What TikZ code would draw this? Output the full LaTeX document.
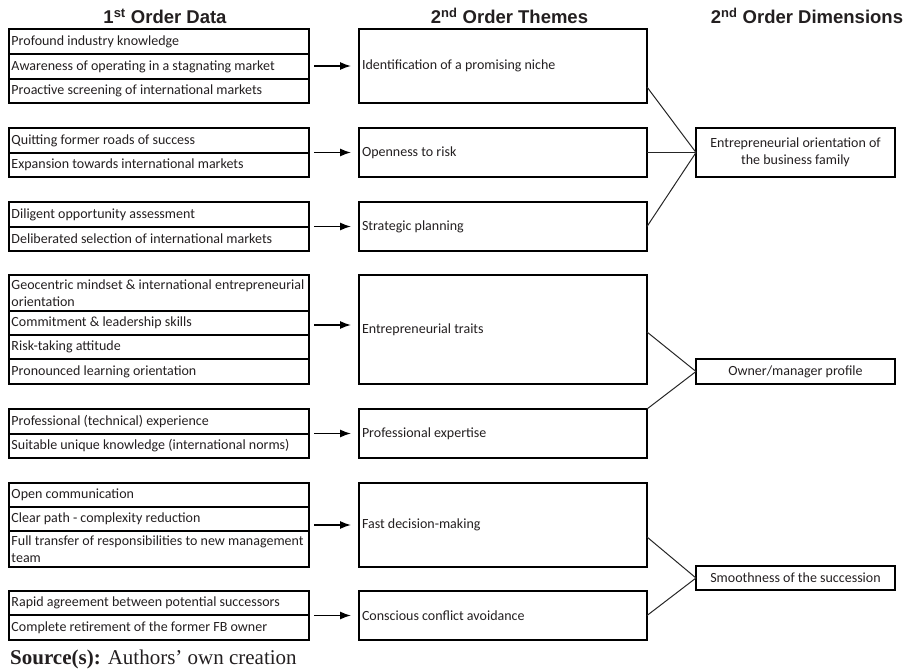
\documentclass[tikz,border=0pt]{standalone}
\usepackage{fontspec}
\setmainfont{Carlito}
\newfontfamily\headfont{Liberation Sans}
\newfontfamily\srcfont{Liberation Serif}
\usetikzlibrary{arrows.meta,calc}
\definecolor{ink}{RGB}{35,31,32}
% ragged-right paragraphs with the font's own word spacing, no hyphenation
\newcommand\plainragged{\rightskip=0pt plus 1fil\relax\spaceskip=0pt\relax
  \hyphenpenalty=10000\relax\exhyphenpenalty=10000\relax}
% centred paragraphs with the font's own word spacing
\newcommand\plaincentred{\leftskip=0pt plus 1fil\relax\rightskip=0pt plus 1fil\relax
  \parfillskip=0pt\relax\spaceskip=0pt\relax\hyphenpenalty=10000\relax}

\begin{document}
\begin{tikzpicture}[x=1pt,y=-1pt,
  boxtext/.style={font=\fontsize{14}{16.8}\selectfont, text=ink},
  cell/.style={boxtext, draw=black, line width=1.2pt, anchor=north west, outer sep=0pt,
    inner xsep=2.5pt, inner ysep=0pt, text width=295pt,
    execute at begin node=\plainragged},
  theme/.style={boxtext, draw=black, line width=1.2pt, anchor=north west, outer sep=0pt,
    inner xsep=3pt, inner ysep=0pt, text width=282pt,
    execute at begin node=\plainragged},
  dimbox/.style={boxtext, draw=black, line width=1.2pt, anchor=north west, outer sep=0pt,
    inner xsep=3pt, inner ysep=0pt, text width=193pt,
    execute at begin node=\plaincentred},
  head/.style={anchor=base, inner sep=0pt, text=ink,
    font=\headfont\bfseries\fontsize{18.5}{22}\selectfont},
  arr/.style={draw=black, line width=1.4pt, -{Latex[length=11pt,width=8pt]},
    shorten <=5pt, shorten >=8pt},
  link/.style={draw=black!85, line width=1pt}]
\useasboundingbox (0,0) rectangle (911,669);

% column headings
\node[head] (h1) at (165,24) {1\textsuperscript{st} Order Data};
\node[head] (h2) at (509.5,24) {2\textsuperscript{nd} Order Themes};
\node[head] (h3) at (807,24) {2\textsuperscript{nd} Order Dimensions};

% first-order data
\node[cell, minimum height=25pt] (a1) at (9,29) {Profound industry knowledge};
\node[cell, minimum height=25pt] (a2) at (9,54) {Awareness of operating in a stagnating market};
\node[cell, minimum height=24pt] (a3) at (9,79) {Proactive screening of international markets};

\node[cell, minimum height=25pt] (b1) at (9,128) {Quitting former roads of success};
\node[cell, minimum height=24pt] (b2) at (9,153) {Expansion towards international markets};

\node[cell, minimum height=25pt] (c1) at (9,202) {Diligent opportunity assessment};
\node[cell, minimum height=24pt] (c2) at (9,227) {Deliberated selection of international markets};

\node[cell, minimum height=36pt] (d1) at (9,275) {Geocentric mindset \& international entrepreneurial\\orientation};
\node[cell, minimum height=24pt] (d2) at (9,311) {Commitment \& leadership skills};
\node[cell, minimum height=24pt] (d3) at (9,335) {Risk-taking attitude};
\node[cell, minimum height=25pt] (d4) at (9,359) {Pronounced learning orientation};

\node[cell, minimum height=25pt] (e1) at (9,409) {Professional (technical) experience};
\node[cell, minimum height=24pt] (e2) at (9,434) {Suitable unique knowledge (international norms)};

\node[cell, minimum height=24pt] (f1) at (9,483) {Open communication};
\node[cell, minimum height=24pt] (f2) at (9,507) {Clear path - complexity reduction};
\node[cell, minimum height=36pt] (f3) at (9,531) {Full transfer of responsibilities to new management\\team};

\node[cell, minimum height=24pt] (g1) at (9,591) {Rapid agreement between potential successors};
\node[cell, minimum height=25pt] (g2) at (9,615) {Complete retirement of the former FB owner};

% second-order themes
\node[theme, minimum height=74pt] (t1) at (359,29) {Identification of a promising niche};
\node[theme, minimum height=49pt] (t2) at (359,128) {Openness to risk};
\node[theme, minimum height=49pt] (t3) at (359,202) {Strategic planning};
\node[theme, minimum height=109pt] (t4) at (359,275) {Entrepreneurial traits};
\node[theme, minimum height=49pt] (t5) at (359,409) {Professional expertise};
\node[theme, minimum height=84pt] (t6) at (359,483) {Fast decision-making};
\node[theme, minimum height=49pt] (t7) at (359,591) {Conscious conflict avoidance};

% second-order dimensions
\node[dimbox, minimum height=49pt] (m1) at (696,128) {Entrepreneurial orientation of\\the business family};
\node[dimbox, minimum height=25pt] (m2) at (696,359) {Owner/manager profile};
\node[dimbox, minimum height=24pt] (m3) at (696,566) {Smoothness of the succession};

% data -> themes
\draw[arr] (t1.west -| a2.east) -- (t1.west);
\draw[arr] (t2.west -| b1.east) -- (t2.west);
\draw[arr] (t3.west -| c1.east) -- (t3.west);
\draw[arr] ([yshift=4.5pt]t4.west -| d2.east) -- ([yshift=4.5pt]t4.west);
\draw[arr] (t5.west -| e1.east) -- (t5.west);
\draw[arr] (t6.west -| f2.east) -- (t6.west);
\draw[arr] (t7.west -| g1.east) -- (t7.west);

% themes -> dimensions
\draw[link] ([yshift=-21pt]t1.east) -- (m1.west);
\draw[link] (t2.east) -- (m1.west);
\draw[link] (t3.east) -- (m1.west);
\draw[link] ([yshift=-2.5pt]t4.east) -- (m2.west);
\draw[link] (t5.north east) -- (m2.west);
\draw[link] ([yshift=-12pt]t6.east) -- (m3.west);
\draw[link] (t7.east) -- (m3.west);

% source line
\node[anchor=base west, inner sep=0pt, text=ink,
  font=\srcfont\fontsize{21}{25}\selectfont] (src) at (10,664)
  {\textbf{Source(s):} Authors’ own creation};
\end{tikzpicture}
\end{document}
